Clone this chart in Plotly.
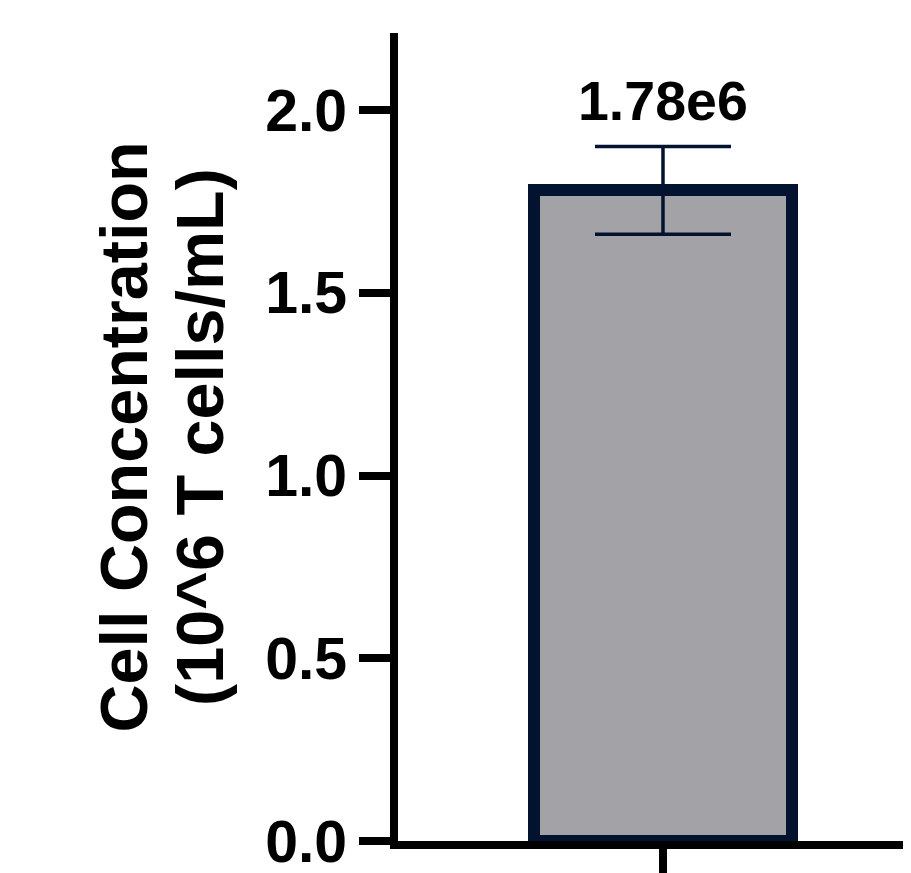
import plotly.graph_objects as go

categories = [0]
values = [1.78]
errors = [0.12]
labels = ["1.78e6"]
y_ticks = [0.0, 0.5, 1.0, 1.5, 2.0]
title_lines = ["Cell Concentration", "(10^6 T cells/mL)"]

FONT = "Liberation Sans"
NAVY = "#03132f"

# page has an 8px default body margin; figure is sized to fit the window
W, H = 903, 865
L, R, T, B = 390, 0, 25, 32

fig = go.Figure()
fig.add_trace(go.Bar(
    x=categories, y=values, width=1.04,
    marker=dict(color="#a3a2a7", line=dict(color=NAVY, width=12)),
    error_y=dict(type="data", array=errors, visible=True, color=NAVY,
                 thickness=3.5, width=68),
    showlegend=False,
))
for xc, v, e, t in zip(categories, values, errors, labels):
    fig.add_annotation(x=xc, y=v + e, text=t, showarrow=False,
                       yanchor="bottom", yshift=13,
                       font=dict(family=FONT, size=55.5, color="black", weight="bold"))

# axis title as two rotated lines (tighter line spacing than plotly's default)
for line, shift in zip(title_lines, [-274.5, -198]):
    fig.add_annotation(xref="paper", yref="paper", x=0, y=0.5, xshift=shift,
                       text=line, textangle=-90, showarrow=False,
                       xanchor="center", yanchor="middle",
                       font=dict(family=FONT, size=66.5, color="black", weight="bold"))

fig.update_layout(
    width=W, height=H,
    margin=dict(l=L, r=R, t=T, b=B, autoexpand=False),
    paper_bgcolor="white", plot_bgcolor="white",
    bargap=0,
)
fig.update_xaxes(
    range=[-1.0685, 1], showgrid=False, zeroline=False, automargin=False,
    showline=True, linecolor="black", linewidth=8,
    ticks="outside", ticklen=30, tickwidth=8, tickcolor="black",
    tickvals=categories, ticktext=[""],
)
fig.update_yaxes(
    range=[0, 2.2107], showgrid=False, zeroline=False, automargin=False,
    showline=True, linecolor="black", linewidth=8,
    ticks="outside", ticklen=31, tickwidth=8, tickcolor="black",
    tickvals=y_ticks, tickformat=".1f", ticklabeloverflow="allow",
    tickfont=dict(family=FONT, size=59, color="black", weight="bold"),
)
fig.write_html("out.html")
